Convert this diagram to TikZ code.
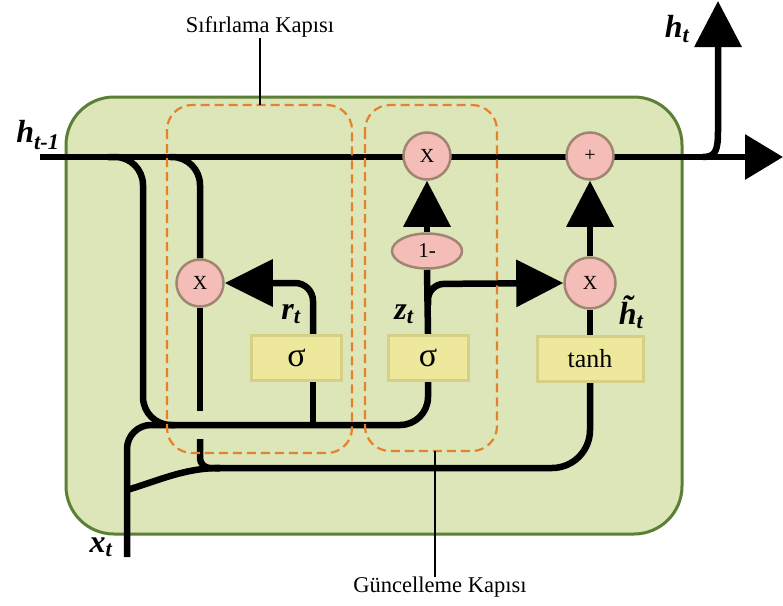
\documentclass[tikz,border=0pt]{standalone}
\usepackage{fontspec}
\setmainfont{Liberation Serif}
\usetikzlibrary{arrows.meta,shapes.geometric}
\definecolor{cellfill}{HTML}{DCE6B8}
\definecolor{cellborder}{HTML}{5A7F35}
\definecolor{opfill}{HTML}{F4BDB8}
\definecolor{opborder}{HTML}{A08672}
\definecolor{actfill}{HTML}{EEE89C}
\definecolor{actborder}{HTML}{D6CF88}
\definecolor{gateline}{HTML}{E4822B}
\pgfdeclarelayer{bg}
\pgfdeclarelayer{wires}
\pgfsetlayers{bg,wires,main}
\begin{document}
\begin{tikzpicture}[x=1pt,y=-1pt,
  wire/.style={line width=6.5pt, draw=black},
  op/.style={circle, fill=opfill, draw=opborder, line width=2.5pt, minimum size=47pt, inner sep=0pt, font=\fontsize{20}{20}\selectfont},
  act/.style={rectangle, fill=actfill, draw=actborder, line width=3pt, minimum height=45pt, inner sep=0pt},
  gate/.style={draw=gateline, line width=2.2pt, dash pattern=on 9pt off 5pt, rounded corners=25pt},
  bigtip/.style={-{Triangle[length=46pt,width=46pt]}},
  lbl/.style={font=\fontsize{32}{32}\selectfont\bfseries\itshape, inner sep=0pt},
  captext/.style={font=\fontsize{22.5}{22.5}\selectfont, inner sep=0pt},
]
\useasboundingbox (0,0) rectangle (783,605);

% cell
\begin{pgfonlayer}{bg}
\fill[white] (0,0) rectangle (783,605);
\draw[cellborder, fill=cellfill, line width=3pt, rounded corners=48pt] (66,97) rectangle (682,534);
\end{pgfonlayer}

% operation nodes
\node[op] (m1) at (200,283) {X};
\node[op] (m2) at (427,156) {X};
\node[op] (add) at (590,156) {+};
\node[op, minimum size=51pt] (m3) at (590,283) {X};
\node[op, ellipse, minimum width=70pt, minimum height=35pt, font=\fontsize{21}{21}\selectfont] (inv) at (427,251) {1-};

\node[act, minimum width=90pt, font=\fontsize{34}{34}\selectfont] (sig1) at (296.5,358) {σ};
\node[act, minimum width=80pt, font=\fontsize{34}{34}\selectfont] (sig2) at (428,358) {σ};
\node[act, minimum width=106pt, font=\fontsize{26}{26}\selectfont] (tanh) at (590,359) {tanh};

% coordinates
\coordinate (hin) at (40,157);
\coordinate (hout) at (783,157);
\coordinate (hsplit) at (703,157);
\coordinate (hbend) at (718,130);
\coordinate (hup) at (718,1);
\coordinate (xin) at (127,557);
\coordinate (s1top) at (313,335);
\coordinate (s1bot) at (313,381);
\coordinate (s1join) at (313,425);

\begin{pgfonlayer}{wires}
\draw[wire, -{Triangle[length=38pt,width=44pt]}] (hin) -- (hout);
\draw[wire, -{Triangle[length=46pt,width=46pt]}] (hsplit) .. controls (716,157) and (718,150) .. (hbend) -- (hup);
% h_{t-1} to update path / sigma inputs
\draw[wire, rounded corners=28pt] (108,157) -- (143,157) -- (143,425) -- (428,425) -- (sig2.south);
\draw[wire] (s1bot) -- (s1join);
% x_t input
\draw[wire, rounded corners=24pt] (xin) -- (127,425) -- (175,425);
\draw[wire] (127,490) .. controls (160,480) and (185,468) .. (220,468);
\draw[wire, rounded corners=38pt] (215,468) -- (590,468) -- (tanh.south);
% reset multiplication
\draw[wire, rounded corners=28pt] (170,157) -- (200,157) -- (m1.north);
\draw[wire] (m1.south) -- (200,411);
\draw[wire, rounded corners=10pt] (200,439) -- (200,468) -- (220,468);
\draw[wire, rounded corners=18pt, -{Triangle[length=48pt,width=46pt]}] (s1top) -- (313,283) -- (m1.east);
% update gate
\draw[wire] (sig2.north) -- (inv.south);
\draw[wire, rounded corners=16pt, -{Triangle[length=47pt,width=46pt]}] (428,305) -- (428,284) -- (m3.west);
\draw[wire, bigtip] (inv.north) -- (m2.south);
\draw[wire, bigtip] (m3.north) -- (add.south);
\draw[wire] (tanh.north) -- (m3.south);
\end{pgfonlayer}

% gates
\draw[gate] (167,105) rectangle (352,453);
\draw[gate] (365,105) rectangle (497,451);

% labels
\node[lbl] (lhin) at (38,135) {h\textsubscript{t-1}};
\node[lbl] (lhout) at (677,29) {h\textsubscript{t}};
\node[lbl] (lr) at (291,314) {r\textsubscript{t}};
\node[lbl] (lz) at (404,314) {z\textsubscript{t}};
\node[lbl] (lht) at (631,312) {\~{h}\textsubscript{t}};
\node[lbl] (lx) at (101,547) {x\textsubscript{t}};

% captions
\node[captext] (c1) at (260,27) {Sıfırlama Kapısı};
\coordinate (g1top) at (260,105);
\draw[line width=2pt] (c1.south) -- (g1top);
\node[captext] (c2) at (440,587) {Güncelleme Kapısı};
\coordinate (g2bot) at (435,451);
\draw[line width=2pt] (g2bot) -- (g2bot |- c2.north);
\end{tikzpicture}
\end{document}
